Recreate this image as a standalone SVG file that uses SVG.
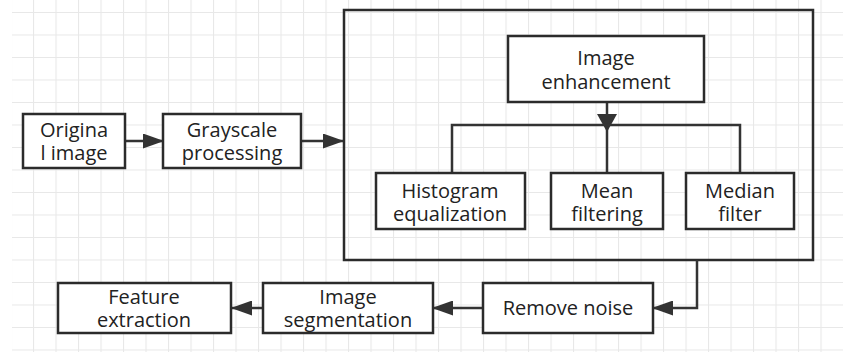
<svg xmlns="http://www.w3.org/2000/svg" width="843" height="352" viewBox="0 0 843 352">
  <defs>
    <pattern id="grid" x="10.5" y="12" width="22.5" height="22.5" patternUnits="userSpaceOnUse">
      <path d="M0 0.5 H22.5 M0.5 0 V22.5" fill="none" stroke="#e8e8e8" stroke-width="1.2"/>
    </pattern>
    <marker id="arrow" viewBox="0 0 21 15" refX="20" refY="7.5" markerWidth="21" markerHeight="15" markerUnits="userSpaceOnUse" orient="auto">
      <path d="M0 0 L21 7.5 L0 15 Z" fill="#333"/>
    </marker>
  </defs>
  <style>
    .box { fill: #fff; stroke: #2b2b2b; stroke-width: 2.5; }
    .frame { fill: none; stroke: #2b2b2b; stroke-width: 2.5; }
    .link { fill: none; stroke: #333; stroke-width: 2.5; }
    text { font-family: "Open Sans", "Noto Sans", "Liberation Sans", sans-serif; font-size: 20px; fill: #222; text-anchor: middle; }
  </style>

  <rect width="843" height="352" fill="#fff"/>
  <rect x="12" y="0" width="831" height="352" fill="url(#grid)"/>

  <!-- enhancement stage frame -->
  <rect class="frame" x="344" y="10" width="469" height="250"/>

  <g id="connectors">
    <line class="link" x1="125" y1="141" x2="163" y2="141" marker-end="url(#arrow)"/>
    <line class="link" x1="301" y1="141" x2="343" y2="141" marker-end="url(#arrow)"/>
    <line class="link" x1="607" y1="102" x2="607" y2="173"/>
    <path d="M597 114 L617 114 L607 132 Z" fill="#333"/>
    <path class="link" d="M452 173 V125 H740 V173"/>
    <path class="link" d="M697 260 V308 H653" marker-end="url(#arrow)"/>
    <line class="link" x1="483" y1="308" x2="433" y2="308" marker-end="url(#arrow)"/>
    <line class="link" x1="263" y1="308" x2="232" y2="308" marker-end="url(#arrow)"/>
  </g>

  <g id="original-image">
    <rect class="box" x="23" y="114" width="102" height="54"/>
    <text x="74" y="137">Origina</text>
    <text x="74" y="160">l image</text>
  </g>
  <g id="grayscale-processing">
    <rect class="box" x="163" y="114" width="138" height="54"/>
    <text x="232" y="137">Grayscale</text>
    <text x="232" y="160">processing</text>
  </g>
  <g id="image-enhancement">
    <rect class="box" x="508" y="36" width="196" height="66"/>
    <text x="606" y="65">Image</text>
    <text x="606" y="89">enhancement</text>
  </g>
  <g id="histogram-equalization">
    <rect class="box" x="376" y="173" width="149" height="56"/>
    <text x="450" y="198">Histogram</text>
    <text x="450" y="221">equalization</text>
  </g>
  <g id="mean-filtering">
    <rect class="box" x="551" y="173" width="112" height="56"/>
    <text x="607" y="198">Mean</text>
    <text x="607" y="221">filtering</text>
  </g>
  <g id="median-filter">
    <rect class="box" x="686" y="173" width="108" height="56"/>
    <text x="740" y="198">Median</text>
    <text x="740" y="221">filter</text>
  </g>
  <g id="remove-noise">
    <rect class="box" x="483" y="283" width="170" height="50"/>
    <text x="568" y="315">Remove noise</text>
  </g>
  <g id="image-segmentation">
    <rect class="box" x="263" y="283" width="170" height="50"/>
    <text x="348" y="304">Image</text>
    <text x="348" y="327">segmentation</text>
  </g>
  <g id="feature-extraction">
    <rect class="box" x="58" y="283" width="173" height="50"/>
    <text x="144" y="304">Feature</text>
    <text x="144" y="327">extraction</text>
  </g>
</svg>
